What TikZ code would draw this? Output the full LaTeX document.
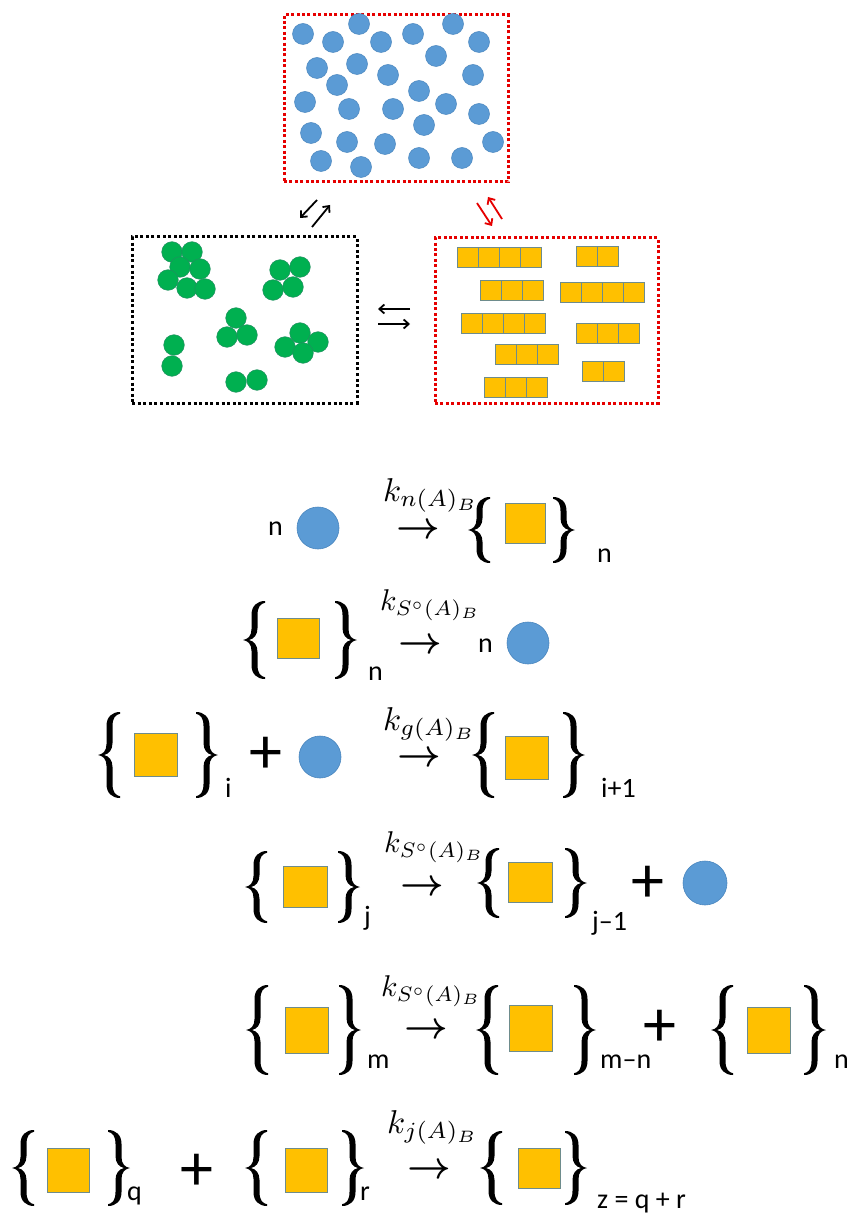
\documentclass[tikz,border=0pt]{standalone}
\usepackage{fontspec}
\setmainfont{Carlito}
\usetikzlibrary{arrows.meta}
\definecolor{cblue}{HTML}{5B9BD5}
\definecolor{cblueline}{HTML}{4A86BE}
\definecolor{cgreen}{HTML}{00B050}
\definecolor{cgreenline}{HTML}{1F8F5F}
\definecolor{cyellow}{HTML}{FFC000}
\definecolor{csqline}{HTML}{6E8C8C}
\definecolor{cred}{HTML}{E60000}
\newcommand{\klabel}[1]{\scalebox{3.3}{$#1$}}
\newcommand{\klabelS}[1]{\scalebox{3.0}{$#1$}}
\newcommand{\reacto}{\scalebox{3.8}{\boldmath$\rightarrow$}}
\tikzset{
  redbox/.style={draw=cred, line width=3pt, dash pattern=on 3pt off 2.4pt, inner sep=0pt},
  blackbox/.style={draw=black, line width=3pt, dash pattern=on 3pt off 2.6pt, inner sep=0pt},
  smallblue/.style={fill=cblue, draw=cblueline, line width=0.5pt},
  smallgreen/.style={fill=cgreen, draw=cgreenline, line width=0.5pt},
  smallsq/.style={fill=cyellow, draw=csqline, line width=0.8pt},
  barb/.style={line width=1.8pt, -{Straight Barb[length=5pt,width=9pt]}},
  bigball/.style={circle, fill=cblue, draw=cblueline, line width=0.6pt, inner sep=0pt, minimum size=42pt},
  bigsq/.style={rectangle, fill=cyellow, draw=csqline, line width=0.8pt, inner sep=0pt},
  txt/.style={font=\fontsize{28}{30}\selectfont, inner sep=0pt, anchor=base west},
  plussym/.style={font=\fontsize{66}{68}\selectfont, inner sep=0pt},
  reacarrow/.style={inner sep=0pt},
  klab/.style={inner sep=0pt, anchor=base west},
  pics/lbr/.style={code={
    \fill[black] (22,-#1) .. controls (14,-#1) and (8.5,{-#1+5}) .. (8.5,{-#1+14}) -- (8.5,-11)
      .. controls (8.5,-4) and (5,-0.8) .. (0,0)
      .. controls (5,0.8) and (8.5,4) .. (8.5,11) -- (8.5,{#1-14})
      .. controls (8.5,{#1-5}) and (14,#1) .. (22,#1)
      -- (22,{#1-1.8}) .. controls (17.5,{#1-2.5}) and (14.5,{#1-6}) .. (14.5,{#1-14})
      -- (14.5,12) .. controls (14.5,5) and (11,1.2) .. (6,0)
      .. controls (11,-1.2) and (14.5,-5) .. (14.5,-12)
      -- (14.5,{-#1+14}) .. controls (14.5,{-#1+6}) and (17.5,{-#1+2.5}) .. (22,{-#1+1.8}) -- cycle;
  }}
}
\begin{document}
\begin{tikzpicture}[x=1pt,y=-1pt]
\useasboundingbox (0,0) rectangle (853,1214);
\fill[white] (0,0) rectangle (853,1214);

% ---------- top box with blue particles ----------
\node[redbox, minimum width=224pt, minimum height=167pt] (topbox) at (396,98.5) {};
\foreach \x/\y in {303/34, 333/42, 359/24, 381/42, 413/34, 453/24, 479/42,
  317/68, 357/64, 388/75, 436/56, 473/75, 337/85, 419/91,
  305/102, 349/109, 393/109, 446/104, 479/114,
  311/133, 424/125, 347/142, 385/144, 493/142,
  321/161, 361/167, 419/158, 462/158}
  \filldraw[smallblue] (\x,\y) circle[radius=10.5pt];

% ---------- green box ----------
\node[blackbox, minimum width=225pt, minimum height=166pt] (greenbox) at (244.5,320) {};
\foreach \x/\y in {172/252, 192/252, 180/267, 200/269, 168/280, 187/288, 205/289,
  280/270, 300/267, 273/290, 293/287,
  236/318, 227/337, 247/335,
  174/345, 172/366,
  300/333, 285/347, 318/342, 303/353,
  236/382, 257/380}
  \filldraw[smallgreen] (\x,\y) circle[radius=10.3pt];

% ---------- yellow box ----------
\node[redbox, minimum width=223pt, minimum height=165pt] (yellowbox) at (546.5,320.5) {};
\foreach \x/\y/\cnt in {457/247/4, 576/246/2, 480/280/3, 560/282/4, 461/313/4,
  576/323/3, 495/344/3, 582/361/2, 484/377/3}
  \foreach \i in {1,...,\cnt}
    \filldraw[smallsq] ({\x+(\i-1)*21},\y) rectangle +(21,20);

% ---------- equilibrium arrows ----------
\coordinate (ka1) at (317,200); \coordinate (kb1) at (300,218);
\coordinate (ka2) at (312,227); \coordinate (kb2) at (330,205);
\draw[barb] (ka1) -- (kb1);
\draw[barb] (ka2) -- (kb2);
\coordinate (ra1) at (477,203); \coordinate (rb1) at (492,226);
\coordinate (ra2) at (502,219); \coordinate (rb2) at (488,197);
\draw[barb, draw=cred] (ra1) -- (rb1);
\draw[barb, draw=cred] (ra2) -- (rb2);
\coordinate (ha1) at (410,309); \coordinate (hb1) at (378,309);
\coordinate (ha2) at (378,324); \coordinate (hb2) at (410,324);
\draw[barb] (ha1) -- (hb1);
\draw[barb] (ha2) -- (hb2);

% ---------- equation 1 ----------
\node[txt] (e1n) at (268,535) {n};
\node[bigball] (e1c) at (318,528) {};
\node[reacarrow] (e1a) at (418,531) {\reacto};
\node[klab] (e1k) at (383,501) {\klabel{k_{n(A)_B}}};
\pic at (468,530) {lbr=33};
\node[bigsq, minimum width=40pt, minimum height=40pt] (e1s) at (525,523) {};
\pic[xscale=-1] at (575,530) {lbr=33};
\node[txt] (e1sub) at (597,562) {n};

% ---------- equation 2 ----------
\pic at (243,640) {lbr=39};
\node[bigsq, minimum width=42pt, minimum height=40pt] (e2s) at (298,638) {};
\pic[xscale=-1] at (357,640) {lbr=39};
\node[txt] (e2sub) at (368,680) {n};
\node[reacarrow] (e2a) at (420,646) {\reacto};
\node[klab] (e2k) at (380,610) {\klabelS{k_{S^\circ(A)_B}}};
\node[txt] (e2n) at (478,652) {n};
\node[bigball] (e2c) at (528,643) {};

% ---------- equation 3 ----------
\pic at (98,755) {lbr=43};
\node[bigsq, minimum width=43pt, minimum height=43pt] (e3s1) at (156,755) {};
\pic[xscale=-1] at (218,755) {lbr=43};
\node[txt] (e3sub1) at (225,797) {i};
\node[plussym] (e3p) at (266,755) {+};
\node[bigball] (e3c) at (320,757) {};
\node[reacarrow] (e3a) at (419,759) {\reacto};
\node[klab] (e3k) at (383,730) {\klabel{k_{g(A)_B}}};
\pic at (472,755) {lbr=43};
\node[bigsq, minimum width=43pt, minimum height=43pt] (e3s2) at (527,758) {};
\pic[xscale=-1] at (585,755) {lbr=43};
\node[txt] (e3sub2) at (601,797) {i+1};

% ---------- equation 4 ----------
\pic at (245,887) {lbr=36};
\node[bigsq, minimum width=44pt, minimum height=41pt] (e4s1) at (305,887) {};
\pic[xscale=-1] at (360,887) {lbr=36};
\node[txt] (e4sub1) at (364,925) {j};
\node[reacarrow] (e4a) at (422,888) {\reacto};
\node[klab] (e4k) at (384,852) {\klabelS{k_{S^\circ(A)_B}}};
\pic at (477,883) {lbr=35};
\node[bigsq, minimum width=44pt, minimum height=40pt] (e4s2) at (530,882) {};
\pic[xscale=-1] at (587,883) {lbr=35};
\node[txt] (e4sub2) at (592,930) {j–1};
\node[plussym] (e4p) at (648,884) {+};
\node[bigball, minimum size=44pt] (e4c) at (705,883) {};

% ---------- equation 5 ----------
\pic at (246,1030) {lbr=45};
\node[bigsq, minimum width=43pt, minimum height=46pt] (e5s1) at (307,1030) {};
\pic[xscale=-1] at (361,1030) {lbr=45};
\node[txt] (e5sub1) at (367,1068) {m};
\node[reacarrow] (e5a) at (426,1031) {\reacto};
\node[klab] (e5k) at (381,996) {\klabelS{k_{S^\circ(A)_B}}};
\pic at (476,1030) {lbr=45};
\node[bigsq, minimum width=43pt, minimum height=46pt] (e5s2) at (531,1028) {};
\pic[xscale=-1] at (596,1030) {lbr=45};
\node[txt] (e5sub2) at (600,1068) {m–n};
\node[plussym] (e5p) at (660,1028) {+};
\pic at (711,1030) {lbr=45};
\node[bigsq, minimum width=43pt, minimum height=46pt] (e5s3) at (769,1030) {};
\pic[xscale=-1] at (826,1030) {lbr=45};
\node[txt] (e5sub3) at (834,1068) {n};

% ---------- equation 6 ----------
\pic at (12,1168) {lbr=38};
\node[bigsq, minimum width=42pt, minimum height=44pt] (e6s1) at (68,1170) {};
\pic[xscale=-1] at (130,1168) {lbr=38};
\node[txt] (e6sub1) at (127,1200) {q};
\node[plussym] (e6p) at (197,1172) {+};
\pic at (245,1168) {lbr=38};
\node[bigsq, minimum width=42pt, minimum height=44pt] (e6s2) at (306,1170) {};
\pic[xscale=-1] at (364,1168) {lbr=38};
\node[txt] (e6sub2) at (360,1200) {r};
\node[reacarrow] (e6a) at (429,1171) {\reacto};
\node[klab] (e6k) at (387,1133) {\klabel{k_{j(A)_B}}};
\pic at (480,1168) {lbr=37};
\node[bigsq, minimum width=42pt, minimum height=40pt] (e6s3) at (539,1168) {};
\pic[xscale=-1] at (587,1168) {lbr=37};
\node[txt] (e6sub3) at (597,1208) {z = q + r};
\end{tikzpicture}
\end{document}
